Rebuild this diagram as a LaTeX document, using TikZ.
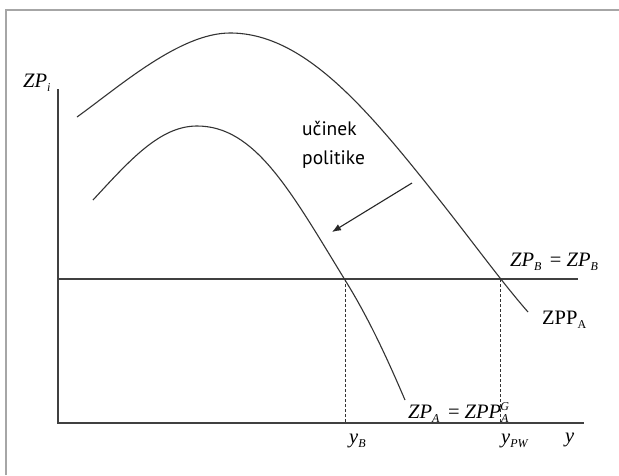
\documentclass[tikz,border=0pt]{standalone}
\usepackage{fontspec}
\usetikzlibrary{arrows.meta}
\setmainfont{Liberation Serif}
\newfontfamily\labfont{PT Sans}
\newcommand{\lsub}[1]{\raisebox{-0.5ex}{\fontsize{12}{12}\selectfont #1}}
\newcommand{\lsup}[1]{\raisebox{0.85ex}{\fontsize{12}{12}\selectfont #1}}
\begin{document}
\begin{tikzpicture}[x=1pt,y=-1pt,
  curve/.style={draw=black!80,line width=1.1pt},
  axis/.style={draw=black!75,line width=1.2pt},
  guide/.style={draw=black!80,line width=1pt,dash pattern=on 3pt off 2pt},
  lab/.style={inner sep=0pt,font=\fontsize{20.5}{20.5}\selectfont},
  note/.style={inner sep=0pt,align=left,font=\labfont\fontsize{19.5}{29}\selectfont}]
\useasboundingbox (0,0) rectangle (619,475);
\fill[white] (0,0) rectangle (619,475);
% frame
\draw[black!35,line width=1.5pt] (6,475) -- (6,10) -- (619,10);
% axes
\coordinate (O) at (58,423);
\coordinate (Ytop) at (58,89);
\coordinate (Xend) at (584,423);
\draw[axis] (Ytop) -- (O) -- (Xend);
% horizontal line
\coordinate (Hs) at (58,279);
\coordinate (He) at (578,279);
\draw[axis] (Hs) -- (He);
% upper curve
\draw[curve] (77,117) .. controls (120,86) and (180,33) .. (230,33)
  .. controls (300,33) and (360,100) .. (430,188)
  .. controls (470,238) and (500,280) .. (528,312);
% lower curve
\draw[curve] (93,200) .. controls (130,160) and (160,126) .. (197,126)
  .. controls (255,126) and (290,190) .. (345,280)
  .. controls (370,320) and (390,365) .. (405,400);
% dashed guides
\coordinate (Ba) at (345,279);
\coordinate (Bb) at (345,423);
\coordinate (Pa) at (500,279);
\coordinate (Pb) at (500,423);
\draw[guide] (Ba) -- (Bb);
\draw[guide] (Pa) -- (Pb);
% arrow
\coordinate (As) at (412,183);
\coordinate (Ae) at (332,232);
\draw[black!85,line width=1.1pt,-{Latex[length=9pt,width=7pt]}] (As) -- (Ae);
% labels
\node[lab,anchor=base west] (zpi) at (23,87) {\textit{ZP}\lsub{\textit{i}}};
\node[note,anchor=base west] (uc) at (302,164) {učinek\\politike};
\node[lab,anchor=base west] (zpb) at (510,266) {\textit{ZP}\lsub{\textit{B}}\, = \textit{ZP}\lsub{\textit{B}}};
\node[lab,anchor=base west] (zppa) at (542,324) {ZPP\lsub{A}};
\node[lab,anchor=base west] (zpa) at (408,418) {\textit{ZP}\lsub{\textit{A}}\, = \textit{ZPP}\lsub{\textit{A}}\hspace{-0.4em}\lsup{\textit{G}}};
\node[lab,anchor=base west] (yb) at (349,443) {\textit{y}\lsub{\textit{B}}};
\node[lab,anchor=base west] (ypw) at (501,443) {\textit{y}\lsub{\textit{PW}}};
\node[lab,anchor=base west] (y) at (565,442) {\textit{y}};
\end{tikzpicture}
\end{document}
